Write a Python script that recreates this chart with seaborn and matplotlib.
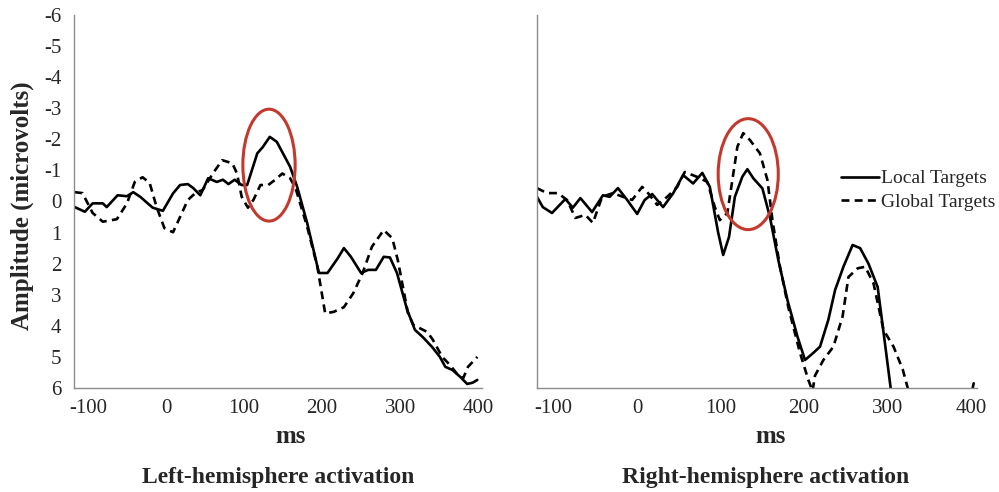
"""ERP waveforms for local vs global targets, left and right hemisphere."""
import matplotlib
matplotlib.use('Agg')
import numpy as np
import pandas as pd
import matplotlib.pyplot as plt
import seaborn as sns
from matplotlib.patches import Ellipse

# left hemisphere, local targets (ms, microvolts)
left_local_ms = [-117, -104, -94, -81, -76, -62, -50, -42, -33, -17, -4, 9, 18, 28, 35, 44, 54, 65,
                 73, 80, 88, 97, 104, 117, 124, 133, 142, 159, 168, 181, 196, 207, 220, 228, 237,
                 250, 259, 269, 279, 287, 296, 309, 319, 329, 341, 351, 358, 367, 377, 386, 393, 399]
left_local_amp = [0.18, 0.33, 0.06, 0.06, 0.18, -0.2, -0.17, -0.3, -0.15, 0.2, 0.3, -0.26, -0.53,
                  -0.56, -0.43, -0.2, -0.75, -0.63, -0.7, -0.56, -0.7, -0.53, -0.53, -1.55, -1.75,
                  -2.08, -1.92, -1.12, -0.48, 0.7, 2.3, 2.3, 1.83, 1.5, 1.78, 2.3, 2.2, 2.2, 1.78,
                  1.8, 2.3, 3.48, 4.13, 4.36, 4.68, 5.0, 5.32, 5.42, 5.64, 5.87, 5.83, 5.74]

# left hemisphere, global targets
left_global_ms = [-117, -107, -94, -81, -63, -50, -40, -30, -21, -12, -2, 9, 18, 28, 39, 47, 60,
                  72, 85, 91, 97, 105, 112, 121, 131, 140, 149, 159, 166, 181, 194, 204, 215, 228,
                  240, 252, 264, 279, 290, 297, 310, 317, 335, 342, 354, 364, 374, 381, 387, 399]
left_global_amp = [-0.3, -0.27, 0.37, 0.65, 0.57, 0.06, -0.63, -0.78, -0.6, 0.18, 0.86, 0.99, 0.5,
                   -0.05, -0.3, -0.37, -0.9, -1.33, -1.23, -0.9, -0.15, 0.2, -0.05, -0.53, -0.53,
                   -0.7, -0.9, -0.75, -0.43, 0.82, 2.1, 3.6, 3.55, 3.4, 2.95, 2.3, 1.45, 0.92, 1.18,
                   1.88, 3.58, 3.97, 4.2, 4.45, 5.0, 5.26, 5.58, 5.68, 5.32, 5.0]

# right hemisphere, local targets
right_local_ms = [-120, -113, -102, -86, -77, -68, -54, -41, -33, -23, -12, 0, 9, 18, 31, 43, 55,
                  67, 78, 87, 97, 103, 110, 117, 126, 132, 139, 150, 159, 169, 180, 192, 201, 211,
                  219, 229, 237, 247, 258, 267, 277, 288, 295, 305, 398, 403]
right_local_amp = [-0.15, 0.18, 0.37, -0.08, 0.2, -0.11, 0.34, -0.2, -0.15, -0.43, -0.05, 0.4,
                   -0.05, -0.24, 0.18, -0.26, -0.85, -0.58, -0.92, -0.47, 1.0, 1.72, 1.14, -0.15,
                   -0.8, -1.04, -0.75, -0.42, 0.5, 1.88, 3.17, 4.35, 5.1, 4.87, 4.67, 3.8, 2.85,
                   2.1, 1.4, 1.5, 2.0, 2.75, 4.2, 6.3, 6.5, 5.85]

# right hemisphere, global targets
right_global_ms = [-120, -108, -95, -84, -74, -62, -53, -42, -29, -17, -6, 6, 13, 24, 36, 48, 57,
                   72, 84, 93, 99, 108, 114, 120, 127, 135, 147, 156, 162, 171, 181, 195, 205, 210,
                   213, 223, 235, 246, 253, 264, 273, 283, 295, 307, 318, 325]
right_global_amp = [-0.43, -0.27, -0.27, -0.05, 0.53, 0.43, 0.69, -0.15, -0.27, -0.15, -0.05,
                    -0.47, -0.27, 0.11, -0.15, -0.47, -0.95, -0.79, -0.63, 0.18, 0.6, 0.37, -0.69,
                    -1.76, -2.2, -1.98, -1.55, -0.69, 0.6, 2.1, 3.4, 4.87, 5.74, 6.1, 5.6, 5.1, 4.67,
                    3.7, 2.43, 2.15, 2.1, 2.63, 4.13, 4.67, 5.4, 6.1]

conditions = ['Local Targets', 'Global Targets']
x_ticks = [-100, 0, 100, 200, 300, 400]
y_ticks = list(range(-6, 7))
panel_titles = ['Left-hemisphere activation', 'Right-hemisphere activation']

# highlighted N1 window: (center ms, center uV, width ms, height uV)
left_ellipse = (132, -1.17, 67, 3.6)
right_ellipse = (133, -0.88, 72, 3.57)


def make_frame(local_ms, local_amp, global_ms, global_amp):
    a = pd.DataFrame({'ms': local_ms, 'amp': local_amp, 'cond': conditions[0]})
    b = pd.DataFrame({'ms': global_ms, 'amp': global_amp, 'cond': conditions[1]})
    return pd.concat([a, b], ignore_index=True)


sns.set_style('white')
plt.rcParams['font.family'] = ['Liberation Serif', 'DejaVu Serif']

fig = plt.figure(figsize=(9.99, 4.92), dpi=100)
ax_l = fig.add_axes([0.074, 0.2114, 0.4085, 0.7581])
ax_r = fig.add_axes([0.5375, 0.2114, 0.4405, 0.7581])

frames = [make_frame(left_local_ms, left_local_amp, left_global_ms, left_global_amp),
          make_frame(right_local_ms, right_local_amp, right_global_ms, right_global_amp)]
xlims = [(-118, 405), (-120, 407)]
ellipses = [left_ellipse, right_ellipse]
title_x = [0.5, 0.52]

for i, (ax, df) in enumerate(zip([ax_l, ax_r], frames)):
    sns.lineplot(data=df, x='ms', y='amp', style='cond', style_order=conditions,
                 dashes={conditions[0]: '', conditions[1]: (3, 2)},
                 color='black', linewidth=1.9, estimator=None, sort=False,
                 legend=(i == 1), ax=ax)
    cx, cy, w, h = ellipses[i]
    ax.add_patch(Ellipse((cx, cy), w, h, fill=False, edgecolor='#c4392d', linewidth=2.2, zorder=5))
    ax.set_xlim(*xlims[i])
    ax.set_ylim(6, -6)
    ax.set_xticks(x_ticks)
    ax.set_xticklabels([str(t) for t in x_ticks], fontsize=15)
    ax.tick_params(axis='x', length=0, pad=8)
    sns.despine(ax=ax)
    for s in ['left', 'bottom']:
        ax.spines[s].set_color('#8c8c8c')
        ax.spines[s].set_linewidth(1.0)
    ax.set_xlabel('ms', fontsize=18, fontweight='bold')
    ax.xaxis.set_label_coords(0.53, -0.131)
    ax.xaxis.label.set_va('center')
    ax.set_ylabel('')
    ax.text(title_x[i], -0.241, panel_titles[i], transform=ax.transAxes, ha='center', va='center',
            fontsize=17, fontweight='bold')

ax_l.set_yticks(y_ticks)
ax_l.set_yticklabels([str(t) for t in y_ticks], fontsize=15)
ax_l.tick_params(axis='y', length=0, pad=9)
ax_l.set_ylabel('Amplitude (microvolts)', fontsize=18, fontweight='bold')
ax_l.yaxis.set_label_coords(-0.127, 0.49)
ax_l.yaxis.label.set_ha('center')
ax_l.yaxis.label.set_va('center')
ax_r.set_yticks([])

leg = ax_r.legend(loc='center left', bbox_to_anchor=(0.69, 0.53), frameon=False,
                  fontsize=14, handlelength=2.0, handletextpad=0.1, borderpad=0,
                  borderaxespad=0, labelspacing=0.3)
for line in leg.get_lines():
    line.set_linewidth(1.9)

fig.savefig('out.png', dpi=100)
